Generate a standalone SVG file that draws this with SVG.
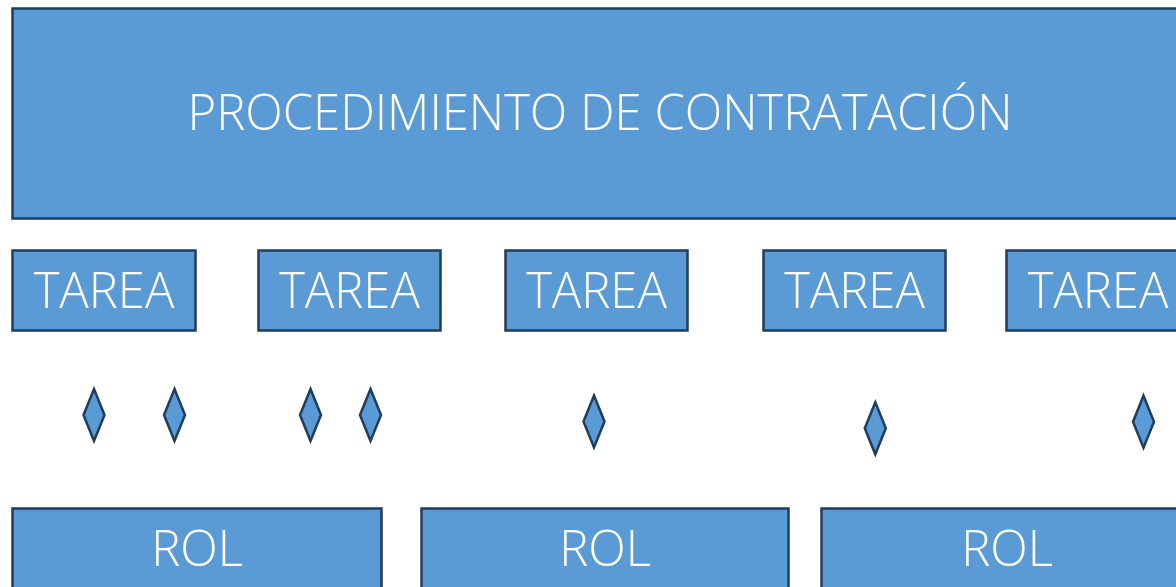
<svg xmlns="http://www.w3.org/2000/svg" width="1176" height="587" viewBox="0 0 1176 587">
<style>
.box{fill:#5b9bd5;stroke:#1f3d5c;stroke-width:2.5}
.lbl{fill:#ffffff;font-family:"Open Sans","Noto Sans","DejaVu Sans",sans-serif;font-weight:300;font-size:49px;text-anchor:middle}
.dia{fill:#5b9bd5;stroke:#1f3d5c;stroke-width:2.5;stroke-linejoin:miter}
</style>
<defs>
<path id="d" d="M0,-26 L10.5,0 L0,26 L-10.5,0 Z"/>
</defs>
<rect width="1176" height="587" fill="#ffffff"/>
<g id="procedimiento">
<rect class="box" x="12.5" y="8.5" width="1180" height="210"/>
<text class="lbl" x="600" y="130">PROCEDIMIENTO DE CONTRATACIÓN</text>
</g>
<g id="tarea1">
<rect class="box" x="12.5" y="250.5" width="183" height="80"/>
<text class="lbl" x="104" y="308">TAREA</text>
</g>
<g id="tarea2">
<rect class="box" x="258.5" y="250.5" width="182" height="80"/>
<text class="lbl" x="349.5" y="308">TAREA</text>
</g>
<g id="tarea3">
<rect class="box" x="505.5" y="250.5" width="182" height="80"/>
<text class="lbl" x="596.5" y="308">TAREA</text>
</g>
<g id="tarea4">
<rect class="box" x="763.5" y="250.5" width="182" height="80"/>
<text class="lbl" x="854.5" y="308">TAREA</text>
</g>
<g id="tarea5">
<rect class="box" x="1006.5" y="250.5" width="183" height="80"/>
<text class="lbl" x="1098" y="308">TAREA</text>
</g>
<g id="connectors">
<use href="#d" class="dia" x="94" y="415"/>
<use href="#d" class="dia" x="174.5" y="415"/>
<use href="#d" class="dia" x="310.5" y="415"/>
<use href="#d" class="dia" x="370.5" y="415"/>
<use href="#d" class="dia" x="594" y="421.5"/>
<use href="#d" class="dia" x="875.3" y="428.3"/>
<use href="#d" class="dia" x="1143.5" y="421.7"/>
</g>
<g id="rol1">
<rect class="box" x="12.5" y="508.5" width="369" height="100"/>
<text class="lbl" x="197" y="566">ROL</text>
</g>
<g id="rol2">
<rect class="box" x="421.5" y="508.5" width="367" height="100"/>
<text class="lbl" x="605" y="566">ROL</text>
</g>
<g id="rol3">
<rect class="box" x="821.5" y="508.5" width="370" height="100"/>
<text class="lbl" x="1007" y="566">ROL</text>
</g>
</svg>
